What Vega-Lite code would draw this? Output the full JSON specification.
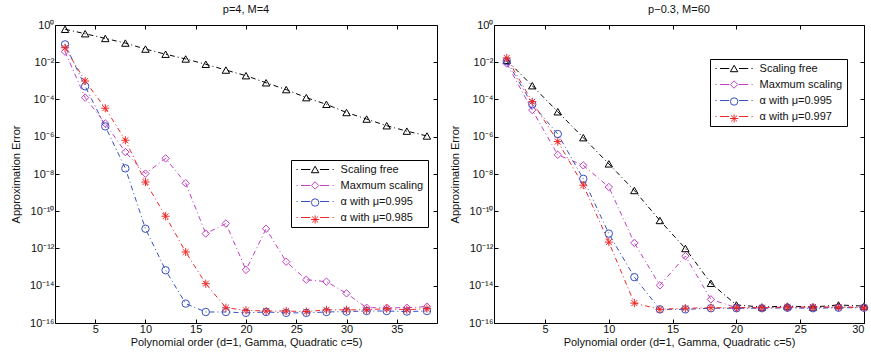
{
  "$schema": "https://vega.github.io/schema/vega-lite/v6.json",
  "background": "white",
  "padding": {"left": 9, "top": 3, "right": 0, "bottom": 4},
  "config": {
    "font": "Liberation Sans",
    "view": {"stroke": "#000", "strokeWidth": 1},
    "axis": {"grid": false, "domain": false, "tickColor": "#000", "tickSize": -4, "labelFont": "Liberation Sans", "labelFontSize": 11, "labelColor": "#111", "titleFont": "Liberation Sans", "titleFontSize": 11, "titleFontWeight": "normal", "titleColor": "#111"},
    "title": {"font": "Liberation Sans", "fontSize": 11, "fontWeight": "normal", "color": "#111", "offset": 4},
    "legend": {"labelFont": "Liberation Sans", "labelFontSize": 11, "labelColor": "#111", "padding": 4, "rowPadding": 4, "symbolSize": 55, "symbolOffset": 14.6, "labelOffset": 20, "symbolStrokeWidth": 1, "title": null}
  },
  "datasets": {
    "left": [
      {"s": "Scaling free", "x": 2, "y": 0.59}, {"s": "Scaling free", "x": 4, "y": 0.34}, {"s": "Scaling free", "x": 6, "y": 0.19}, {"s": "Scaling free", "x": 8, "y": 0.107}, {"s": "Scaling free", "x": 10, "y": 0.051}, {"s": "Scaling free", "x": 12, "y": 0.027}, {"s": "Scaling free", "x": 14, "y": 0.015}, {"s": "Scaling free", "x": 16, "y": 0.0078}, {"s": "Scaling free", "x": 18, "y": 0.0038}, {"s": "Scaling free", "x": 20, "y": 0.0019}, {"s": "Scaling free", "x": 22, "y": 0.00079}, {"s": "Scaling free", "x": 24, "y": 0.00034}, {"s": "Scaling free", "x": 26, "y": 0.000126}, {"s": "Scaling free", "x": 28, "y": 5.5e-5}, {"s": "Scaling free", "x": 30, "y": 2.0e-5}, {"s": "Scaling free", "x": 32, "y": 8.9e-6}, {"s": "Scaling free", "x": 34, "y": 3.9e-6}, {"s": "Scaling free", "x": 36, "y": 2.0e-6}, {"s": "Scaling free", "x": 38, "y": 1.1e-6},
      {"s": "Maxmum scaling", "x": 2, "y": 0.037}, {"s": "Maxmum scaling", "x": 4, "y": 1.26e-4}, {"s": "Maxmum scaling", "x": 6, "y": 5.2e-6}, {"s": "Maxmum scaling", "x": 8, "y": 1.5e-7}, {"s": "Maxmum scaling", "x": 10, "y": 1.05e-8}, {"s": "Maxmum scaling", "x": 12, "y": 6.9e-8}, {"s": "Maxmum scaling", "x": 14, "y": 3.2e-9}, {"s": "Maxmum scaling", "x": 16, "y": 6.3e-12}, {"s": "Maxmum scaling", "x": 18, "y": 2.2e-11}, {"s": "Maxmum scaling", "x": 20, "y": 7.1e-14}, {"s": "Maxmum scaling", "x": 22, "y": 1.15e-11}, {"s": "Maxmum scaling", "x": 24, "y": 1.95e-13}, {"s": "Maxmum scaling", "x": 26, "y": 2.1e-14}, {"s": "Maxmum scaling", "x": 28, "y": 1.66e-14}, {"s": "Maxmum scaling", "x": 30, "y": 3.9e-15}, {"s": "Maxmum scaling", "x": 32, "y": 6.6e-16}, {"s": "Maxmum scaling", "x": 34, "y": 6.6e-16}, {"s": "Maxmum scaling", "x": 36, "y": 6.6e-16}, {"s": "Maxmum scaling", "x": 38, "y": 7.6e-16},
      {"s": "α with μ=0.995", "x": 2, "y": 0.091}, {"s": "α with μ=0.995", "x": 4, "y": 5.1e-4}, {"s": "α with μ=0.995", "x": 6, "y": 3.6e-6}, {"s": "α with μ=0.995", "x": 8, "y": 2.0e-8}, {"s": "α with μ=0.995", "x": 10, "y": 1.15e-11}, {"s": "α with μ=0.995", "x": 12, "y": 6.8e-14}, {"s": "α with μ=0.995", "x": 14, "y": 1.1e-15}, {"s": "α with μ=0.995", "x": 16, "y": 3.9e-16}, {"s": "α with μ=0.995", "x": 18, "y": 3.9e-16}, {"s": "α with μ=0.995", "x": 20, "y": 3.5e-16}, {"s": "α with μ=0.995", "x": 22, "y": 3.9e-16}, {"s": "α with μ=0.995", "x": 24, "y": 3.5e-16}, {"s": "α with μ=0.995", "x": 26, "y": 3.5e-16}, {"s": "α with μ=0.995", "x": 28, "y": 3.9e-16}, {"s": "α with μ=0.995", "x": 30, "y": 4.1e-16}, {"s": "α with μ=0.995", "x": 32, "y": 4.4e-16}, {"s": "α with μ=0.995", "x": 34, "y": 4.4e-16}, {"s": "α with μ=0.995", "x": 36, "y": 4.1e-16}, {"s": "α with μ=0.995", "x": 38, "y": 4.4e-16},
      {"s": "α with μ=0.985", "x": 2, "y": 0.06}, {"s": "α with μ=0.985", "x": 4, "y": 9.8e-4}, {"s": "α with μ=0.985", "x": 6, "y": 3.4e-5}, {"s": "α with μ=0.985", "x": 8, "y": 6.5e-7}, {"s": "α with μ=0.985", "x": 10, "y": 3.7e-9}, {"s": "α with μ=0.985", "x": 12, "y": 5.4e-11}, {"s": "α with μ=0.985", "x": 14, "y": 6.5e-13}, {"s": "α with μ=0.985", "x": 16, "y": 1.29e-14}, {"s": "α with μ=0.985", "x": 18, "y": 6.6e-16}, {"s": "α with μ=0.985", "x": 20, "y": 4.8e-16}, {"s": "α with μ=0.985", "x": 22, "y": 4.4e-16}, {"s": "α with μ=0.985", "x": 24, "y": 4.4e-16}, {"s": "α with μ=0.985", "x": 26, "y": 4.1e-16}, {"s": "α with μ=0.985", "x": 28, "y": 5.1e-16}, {"s": "α with μ=0.985", "x": 30, "y": 5.1e-16}, {"s": "α with μ=0.985", "x": 32, "y": 5.1e-16}, {"s": "α with μ=0.985", "x": 34, "y": 5.9e-16}, {"s": "α with μ=0.985", "x": 36, "y": 5.1e-16}, {"s": "α with μ=0.985", "x": 38, "y": 5.9e-16}
    ],
    "right": [
      {"s": "Scaling free", "x": 2, "y": 0.0129}, {"s": "Scaling free", "x": 4, "y": 5.5e-4}, {"s": "Scaling free", "x": 6, "y": 2.2e-5}, {"s": "Scaling free", "x": 8, "y": 8.9e-7}, {"s": "Scaling free", "x": 10, "y": 3.5e-8}, {"s": "Scaling free", "x": 12, "y": 1.3e-9}, {"s": "Scaling free", "x": 14, "y": 3.2e-11}, {"s": "Scaling free", "x": 16, "y": 1.0e-12}, {"s": "Scaling free", "x": 18, "y": 1.35e-14}, {"s": "Scaling free", "x": 20, "y": 9.3e-16}, {"s": "Scaling free", "x": 22, "y": 7.2e-16}, {"s": "Scaling free", "x": 24, "y": 8.1e-16}, {"s": "Scaling free", "x": 26, "y": 7.2e-16}, {"s": "Scaling free", "x": 28, "y": 9.3e-16}, {"s": "Scaling free", "x": 30, "y": 8.1e-16},
      {"s": "Maxmum scaling", "x": 2, "y": 0.0085}, {"s": "Maxmum scaling", "x": 4, "y": 2.7e-5}, {"s": "Maxmum scaling", "x": 6, "y": 1.07e-7}, {"s": "Maxmum scaling", "x": 8, "y": 2.9e-8}, {"s": "Maxmum scaling", "x": 10, "y": 2.0e-9}, {"s": "Maxmum scaling", "x": 12, "y": 2.0e-12}, {"s": "Maxmum scaling", "x": 14, "y": 1.05e-14}, {"s": "Maxmum scaling", "x": 16, "y": 3.9e-13}, {"s": "Maxmum scaling", "x": 18, "y": 1.86e-15}, {"s": "Maxmum scaling", "x": 20, "y": 6.6e-16}, {"s": "Maxmum scaling", "x": 22, "y": 6.6e-16}, {"s": "Maxmum scaling", "x": 24, "y": 6.6e-16}, {"s": "Maxmum scaling", "x": 26, "y": 6.6e-16}, {"s": "Maxmum scaling", "x": 28, "y": 7.2e-16}, {"s": "Maxmum scaling", "x": 30, "y": 7.2e-16},
      {"s": "α with μ=0.995", "x": 2, "y": 0.0115}, {"s": "α with μ=0.995", "x": 4, "y": 5.5e-5}, {"s": "α with μ=0.995", "x": 6, "y": 1.4e-6}, {"s": "α with μ=0.995", "x": 8, "y": 5.5e-9}, {"s": "α with μ=0.995", "x": 10, "y": 6.3e-12}, {"s": "α with μ=0.995", "x": 12, "y": 2.9e-14}, {"s": "α with μ=0.995", "x": 14, "y": 5.4e-16}, {"s": "α with μ=0.995", "x": 16, "y": 5.4e-16}, {"s": "α with μ=0.995", "x": 18, "y": 6.2e-16}, {"s": "α with μ=0.995", "x": 20, "y": 6.2e-16}, {"s": "α with μ=0.995", "x": 22, "y": 6.2e-16}, {"s": "α with μ=0.995", "x": 24, "y": 6.6e-16}, {"s": "α with μ=0.995", "x": 26, "y": 6.2e-16}, {"s": "α with μ=0.995", "x": 28, "y": 6.6e-16}, {"s": "α with μ=0.995", "x": 30, "y": 6.6e-16},
      {"s": "α with μ=0.997", "x": 2, "y": 0.017}, {"s": "α with μ=0.997", "x": 4, "y": 7.6e-5}, {"s": "α with μ=0.997", "x": 6, "y": 5.5e-7}, {"s": "α with μ=0.997", "x": 8, "y": 2.5e-9}, {"s": "α with μ=0.997", "x": 10, "y": 2.2e-12}, {"s": "α with μ=0.997", "x": 12, "y": 1.17e-15}, {"s": "α with μ=0.997", "x": 14, "y": 5.4e-16}, {"s": "α with μ=0.997", "x": 16, "y": 6.2e-16}, {"s": "α with μ=0.997", "x": 18, "y": 6.6e-16}, {"s": "α with μ=0.997", "x": 20, "y": 6.6e-16}, {"s": "α with μ=0.997", "x": 22, "y": 6.6e-16}, {"s": "α with μ=0.997", "x": 24, "y": 7.2e-16}, {"s": "α with μ=0.997", "x": 26, "y": 7.2e-16}, {"s": "α with μ=0.997", "x": 28, "y": 7.2e-16}, {"s": "α with μ=0.997", "x": 30, "y": 6.6e-16}
    ]
  },
  "hconcat": [
    {
      "width": 382,
      "height": 298,
      "title": {"text": "p=4, M=4"},
      "data": {"name": "left"},
      "layer": [
        {
          "mark": {"type": "line", "strokeWidth": 1, "strokeDash": [5, 3, 1, 3]},
          "encoding": {
            "x": {"field": "x", "type": "quantitative", "scale": {"domain": [1, 39], "nice": false, "zero": false}, "axis": {"orient": "bottom", "values": [5, 10, 15, 20, 25, 30, 35], "title": "Polynomial order (d=1, Gamma, Quadratic c=5)", "labelPadding": 4, "titlePadding": 2}},
            "y": {"field": "y", "type": "quantitative", "scale": {"type": "log", "domain": [1e-16, 1], "nice": false}, "axis": {"orient": "left", "values": [1e-16, 1e-14, 1e-12, 1e-10, 1e-8, 1e-6, 1e-4, 1e-2, 1], "title": "Approximation Error", "labelAlign": "right", "labelPadding": 5, "titlePadding": 8, "labelExpr": "'10' + (round(log(datum.value)/LN10) < 0 ? '⁻' : '') + (abs(round(log(datum.value)/LN10)) >= 10 ? ['⁰','¹','²','³','⁴','⁵','⁶','⁷','⁸','⁹'][floor(abs(round(log(datum.value)/LN10))/10)] : '') + ['⁰','¹','²','³','⁴','⁵','⁶','⁷','⁸','⁹'][abs(round(log(datum.value)/LN10)) % 10]"}},
            "color": {"field": "s", "type": "nominal", "sort": ["Scaling free", "Maxmum scaling", "α with μ=0.995", "α with μ=0.985"], "scale": {"range": ["#000000", "#c040c0", "#3550c0", "#f02828"]},
              "legend": {"orient": "none", "legendX": 236, "legendY": 135, "strokeColor": "#000", "fillColor": "white", "symbolType": "M-5,0L-4.7,0M-3.8,0L-1.3,0M1.3,0L3.8,0M4.7,0L5,0"}}
          }
        },
        {
          "mark": {"type": "point", "filled": false, "size": 55, "strokeWidth": 1, "opacity": 1},
          "encoding": {
            "x": {"field": "x", "type": "quantitative", "axis": {"orient": "top", "values": [5, 10, 15, 20, 25, 30, 35], "labels": false, "title": null}},
            "y": {"field": "y", "type": "quantitative", "axis": {"orient": "right", "values": [1e-16, 1e-14, 1e-12, 1e-10, 1e-8, 1e-6, 1e-4, 1e-2, 1], "labels": false, "title": null}},
            "stroke": {"field": "s", "type": "nominal", "scale": {"domain": ["Scaling free", "Maxmum scaling", "α with μ=0.995", "α with μ=0.985"], "range": ["#000000", "#c040c0", "#3550c0", "#f02828"]},
              "legend": {"orient": "none", "legendX": 236, "legendY": 135, "strokeColor": "transparent", "fillColor": "transparent", "labelExpr": "' '"}},
            "shape": {"field": "s", "type": "nominal", "scale": {"domain": ["Scaling free", "Maxmum scaling", "α with μ=0.995", "α with μ=0.985"], "range": ["triangle-up", "diamond", "circle", "M-1.1,0L1.1,0M0,-1.1L0,1.1M-0.8,-0.8L0.8,0.8M-0.8,0.8L0.8,-0.8"]},
              "legend": {"orient": "none", "legendX": 236, "legendY": 135, "strokeColor": "transparent", "fillColor": "transparent", "labelExpr": "' '"}}
          }
        }
      ],
      "resolve": {"axis": {"x": "independent", "y": "independent"}}
    },
    {
      "width": 370,
      "height": 298,
      "title": {"text": "p−0.3, M=60"},
      "data": {"name": "right"},
      "layer": [
        {
          "mark": {"type": "line", "strokeWidth": 1, "strokeDash": [5, 3, 1, 3]},
          "encoding": {
            "x": {"field": "x", "type": "quantitative", "scale": {"domain": [1, 30], "nice": false, "zero": false}, "axis": {"orient": "bottom", "values": [5, 10, 15, 20, 25, 30], "title": "Polynomial order (d=1, Gamma, Quadratic c=5)", "labelPadding": 4, "titlePadding": 2}},
            "y": {"field": "y", "type": "quantitative", "scale": {"type": "log", "domain": [1e-16, 1], "nice": false}, "axis": {"orient": "left", "values": [1e-16, 1e-14, 1e-12, 1e-10, 1e-8, 1e-6, 1e-4, 1e-2, 1], "title": "Approximation Error", "labelAlign": "right", "labelPadding": 5, "titlePadding": 8, "labelExpr": "'10' + (round(log(datum.value)/LN10) < 0 ? '⁻' : '') + (abs(round(log(datum.value)/LN10)) >= 10 ? ['⁰','¹','²','³','⁴','⁵','⁶','⁷','⁸','⁹'][floor(abs(round(log(datum.value)/LN10))/10)] : '') + ['⁰','¹','²','³','⁴','⁵','⁶','⁷','⁸','⁹'][abs(round(log(datum.value)/LN10)) % 10]"}},
            "color": {"field": "s", "type": "nominal", "sort": ["Scaling free", "Maxmum scaling", "α with μ=0.995", "α with μ=0.997"], "scale": {"range": ["#000000", "#c040c0", "#3550c0", "#f02828"]},
              "legend": {"orient": "none", "legendX": 216, "legendY": 34, "strokeColor": "#000", "fillColor": "white", "symbolType": "M-5,0L-4.7,0M-3.8,0L-1.3,0M1.3,0L3.8,0M4.7,0L5,0"}}
          }
        },
        {
          "mark": {"type": "point", "filled": false, "size": 55, "strokeWidth": 1, "opacity": 1},
          "encoding": {
            "x": {"field": "x", "type": "quantitative", "axis": {"orient": "top", "values": [5, 10, 15, 20, 25, 30], "labels": false, "title": null}},
            "y": {"field": "y", "type": "quantitative", "axis": {"orient": "right", "values": [1e-16, 1e-14, 1e-12, 1e-10, 1e-8, 1e-6, 1e-4, 1e-2, 1], "labels": false, "title": null}},
            "stroke": {"field": "s", "type": "nominal", "scale": {"domain": ["Scaling free", "Maxmum scaling", "α with μ=0.995", "α with μ=0.997"], "range": ["#000000", "#c040c0", "#3550c0", "#f02828"]},
              "legend": {"orient": "none", "legendX": 216, "legendY": 34, "strokeColor": "transparent", "fillColor": "transparent", "labelExpr": "' '"}},
            "shape": {"field": "s", "type": "nominal", "scale": {"domain": ["Scaling free", "Maxmum scaling", "α with μ=0.995", "α with μ=0.997"], "range": ["triangle-up", "diamond", "circle", "M-1.1,0L1.1,0M0,-1.1L0,1.1M-0.8,-0.8L0.8,0.8M-0.8,0.8L0.8,-0.8"]},
              "legend": {"orient": "none", "legendX": 216, "legendY": 34, "strokeColor": "transparent", "fillColor": "transparent", "labelExpr": "' '"}}
          }
        }
      ],
      "resolve": {"axis": {"x": "independent", "y": "independent"}}
    }
  ],
  "spacing": 10,
  "resolve": {"scale": {"color": "independent", "stroke": "independent", "shape": "independent"}, "legend": {"color": "independent", "stroke": "independent", "shape": "independent"}}
}
